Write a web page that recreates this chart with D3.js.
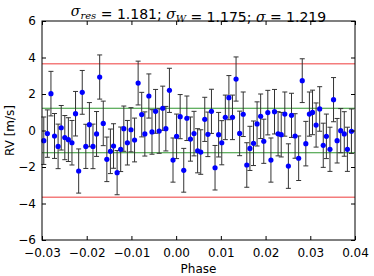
<!DOCTYPE html>
<html>
<head>
<meta charset="utf-8">
<script src="https://cdn.jsdelivr.net/npm/d3@7"></script>
<style>
  body { margin: 0; background: #fff; }
  svg text { font-family: "DejaVu Sans", sans-serif; }
</style>
</head>
<body>
<div id="chart"></div>
<script>
const phase = [
  -0.0296, -0.0288, -0.0280, -0.0272, -0.0264, -0.0257, -0.0249, -0.0241, -0.0233, -0.0225,
  -0.0218, -0.0210, -0.0202, -0.0194, -0.0186, -0.0178, -0.0171, -0.0163, -0.0155, -0.0147,
  -0.0140, -0.0132, -0.0124, -0.0117, -0.0109, -0.0101, -0.0093, -0.0085, -0.0077, -0.0070,
  -0.0061, -0.0054, -0.0046, -0.0038, -0.0030, -0.0023, -0.0015, -0.0007,  0.0001,  0.0009,
   0.0017,  0.0024,  0.0032,  0.0040,  0.0048,  0.0055,  0.0064,  0.0071,  0.0079,  0.0087,
   0.0095,  0.0102,  0.0110,  0.0118,  0.0126,  0.0134,  0.0142,  0.0150,  0.0158,  0.0165,
   0.0173,  0.0181,  0.0189,  0.0196,  0.0205,  0.0212,  0.0220,  0.0228,  0.0235,  0.0243,
   0.0251,  0.0258,  0.0266,  0.0274,  0.0282,  0.0290,  0.0298,  0.0305,  0.0313,  0.0321,
   0.0329,  0.0336,  0.0344,  0.0352,  0.0360,  0.0368,  0.0376,  0.0383,  0.0392
];
// RV residuals [m/s]
const rv = [
  -0.56, -0.17,  2.02, -0.30, -0.87,  0.15, -0.39, -0.50, -0.67,  0.92,
  -2.22,  2.09, -0.87,  0.32, -0.87, -0.19,  2.93,  0.39, -1.58, -1.14,
  -0.85, -2.31, -1.03,  0.10, -0.67,  0.04, -0.52,  2.60,  0.87, -0.19,
   1.89, -0.08,  1.05, -0.03,  1.22,  0.10,  2.20, -1.62, -0.32,  0.76,
  -2.18,  0.67, -0.47, -0.17, -1.11, -1.18,  0.61, -0.21,  1.05, -2.04,
  -0.23, -0.67,  0.72,  1.80,  0.72,  2.82, -0.16,  0.89, -1.89, -0.98,
  -0.70,  0.36,  0.78, -0.59,  0.98, -1.62,  1.03, -0.18, -0.23,  0.90,
  -1.95,  0.83, -0.30, -1.52,  2.73, -0.72,  0.90,  0.99,  0.30,  1.18,
  -0.81, -0.32, -1.03,  1.69, -0.56, -0.01, -0.19, -1.03, -0.04
];
// 1-sigma error bars [m/s]
const rvErr = [
  1.30, 1.30, 1.22, 1.23, 1.22, 1.22, 1.21, 1.20, 1.22, 1.22,
  1.21, 1.20, 1.21, 1.21, 1.22, 1.23, 1.21, 1.22, 1.22, 1.22,
  1.22, 1.21, 1.22, 1.24, 1.22, 1.21, 1.20, 1.20, 1.22, 1.21,
  1.21, 1.22, 1.20, 1.22, 1.21, 1.22, 1.21, 1.21, 1.22, 1.21,
  1.20, 1.22, 1.21, 1.22, 1.21, 1.22, 1.21, 1.22, 1.21, 1.22,
  1.22, 1.21, 1.22, 1.21, 1.22, 1.21, 1.22, 1.22, 1.22, 1.21,
  1.22, 1.21, 1.22, 1.21, 1.22, 1.21, 1.22, 1.21, 1.22, 1.21,
  1.22, 1.21, 1.22, 1.22, 1.20, 1.22, 1.21, 1.22, 1.21, 1.22,
  1.21, 1.22, 1.21, 1.21, 1.22, 1.21, 1.22, 1.21, 1.22
];
const sigma = 1.219;
const sigmaRes = 1.181;
const sigmaW = 1.175;
const xTicks = [-0.03, -0.02, -0.01, 0.00, 0.01, 0.02, 0.03, 0.04];
const yTicks = [-6, -4, -2, 0, 2, 4, 6];

const W = 374, H = 276;
const margin = { top: 21, right: 19, bottom: 36, left: 42 };
const iw = W - margin.left - margin.right;
const ih = H - margin.top - margin.bottom;

const svg = d3.select('#chart').append('svg')
  .attr('width', W)
  .attr('height', H);

const g = svg.append('g')
  .attr('transform', `translate(${margin.left},${margin.top})`);

const x = d3.scaleLinear().domain([-0.03, 0.04]).range([0, iw]);
const y = d3.scaleLinear().domain([-6, 6]).range([ih, 0]);

const minus = s => s.replace('-', '\u2212');

// horizontal reference lines: +-3 sigma (red), +-sigma (green)
const hlines = [
  { v: 3 * sigma, c: '#f47c7c', w: 1.5 },
  { v: -3 * sigma, c: '#f47c7c', w: 1.5 },
  { v: sigma, c: '#2f962f', w: 1.2 },
  { v: -sigma, c: '#2f962f', w: 1.2 }
];
g.selectAll('.hline')
  .data(hlines)
  .enter().append('line')
    .attr('x1', 0).attr('x2', iw)
    .attr('y1', d => y(d.v)).attr('y2', d => y(d.v))
    .attr('stroke', d => d.c)
    .attr('stroke-width', d => d.w);

const data = phase.map((p, i) => ({ p, v: rv[i], e: rvErr[i] }));

// error bars
const bars = g.selectAll('.err')
  .data(data)
  .enter().append('g')
    .attr('class', 'err')
    .attr('stroke', '#333')
    .attr('stroke-width', 1);
bars.append('line')
  .attr('x1', d => x(d.p)).attr('x2', d => x(d.p))
  .attr('y1', d => y(d.v - d.e)).attr('y2', d => y(d.v + d.e));
bars.append('line')
  .attr('x1', d => x(d.p) - 2.5).attr('x2', d => x(d.p) + 2.5)
  .attr('y1', d => y(d.v + d.e)).attr('y2', d => y(d.v + d.e));
bars.append('line')
  .attr('x1', d => x(d.p) - 2.5).attr('x2', d => x(d.p) + 2.5)
  .attr('y1', d => y(d.v - d.e)).attr('y2', d => y(d.v - d.e));

// points
g.selectAll('.pt')
  .data(data)
  .enter().append('circle')
    .attr('cx', d => x(d.p))
    .attr('cy', d => y(d.v))
    .attr('r', 2.6)
    .attr('fill', '#0000ff');

// axes, ticks pointing inward on all four sides
const fmtX = d => minus(d3.format('.2f')(d));
const fmtY = d => minus(String(d));

const xb = g.append('g').attr('transform', `translate(0,${ih})`)
  .call(d3.axisBottom(x).tickValues(xTicks).tickFormat(fmtX).tickSizeInner(-4).tickSizeOuter(0).tickPadding(8));
const xt = g.append('g')
  .call(d3.axisTop(x).tickValues(xTicks).tickFormat('').tickSizeInner(-4).tickSizeOuter(0));
const yl = g.append('g')
  .call(d3.axisLeft(y).tickValues(yTicks).tickFormat(fmtY).tickSizeInner(-4).tickSizeOuter(0).tickPadding(6));
const yr = g.append('g').attr('transform', `translate(${iw},0)`)
  .call(d3.axisRight(y).tickValues(yTicks).tickFormat('').tickSizeInner(-4).tickSizeOuter(0));

[xb, xt, yl, yr].forEach(a => {
  a.select('.domain').remove();
  a.selectAll('.tick line').attr('stroke', '#000');
  a.selectAll('text').attr('fill', '#000').style('font-size', '12px');
});

g.append('rect')
  .attr('width', iw).attr('height', ih)
  .attr('fill', 'none')
  .attr('stroke', '#000')
  .attr('stroke-width', 1);

// labels
svg.append('text')
  .attr('x', margin.left + iw / 2)
  .attr('y', H - 3)
  .attr('text-anchor', 'middle')
  .style('font-size', '12px')
  .text('Phase');

svg.append('text')
  .attr('transform', `translate(14,${margin.top + ih / 2}) rotate(-90)`)
  .attr('text-anchor', 'middle')
  .style('font-size', '12px')
  .text('RV [m/s]');

// title with math-style sigmas
const title = svg.append('text')
  .attr('x', margin.left + iw / 2)
  .attr('y', 16)
  .attr('text-anchor', 'middle')
  .style('font-size', '14px');

const sig = (t, sub) => {
  t.append('tspan').style('font-family', 'DejaVu Serif, serif').style('font-style', 'italic').text('\u03c3');
  if (sub) {
    t.append('tspan').attr('dy', 3).style('font-size', '10px')
      .style('font-family', 'DejaVu Serif, serif').style('font-style', 'italic').text(sub);
    t.append('tspan').attr('dy', -3).text('');
  }
};
sig(title, 'res');
title.append('tspan').text(` = ${sigmaRes.toFixed(3)}; `);
sig(title, 'W');
title.append('tspan').text(` = ${sigmaW.toFixed(3)}; `);
sig(title, null);
title.append('tspan').text(` = ${sigma.toFixed(3)}`);
</script>
</body>
</html>
